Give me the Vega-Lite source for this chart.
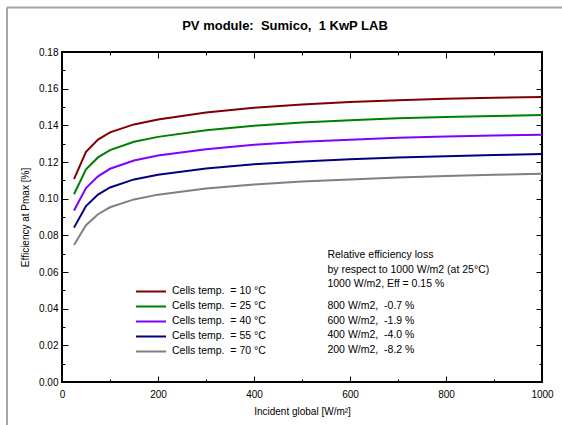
{
  "$schema": "https://vega.github.io/schema/vega-lite/v6.json",
  "width": 480,
  "height": 330,
  "autosize": "none",
  "padding": {"left": 62, "top": 52, "right": 20, "bottom": 43},
  "background": "white",
  "title": {"text": "PV module:\u00a0 Sumico,\u00a0 1 KwP LAB", "font": "Liberation Sans", "fontSize": 13, "fontWeight": "bold", "color": "black", "anchor": "middle", "frame": "group", "dx": -17, "offset": -26},
  "config": {
    "view": {"stroke": "black", "strokeWidth": 2},
    "axis": {"grid": false, "domain": false, "tickColor": "black", "tickWidth": 1, "labelFont": "Liberation Sans", "labelFontSize": 10, "labelColor": "black", "titleFont": "Liberation Sans", "titleFontSize": 10, "titleFontWeight": "normal", "titleColor": "black", "labelFlush": false},
    "legend": {"orient": "none", "legendX": 73, "legendY": 233, "title": null, "symbolType": "stroke", "symbolSize": 900, "symbolStrokeWidth": 2, "labelFont": "Liberation Sans", "labelFontSize": 10.5, "labelColor": "black", "clipHeight": 12.75, "rowPadding": 2, "labelOffset": 5}
  },
  "data": {"values": [
    {"g": 25, "e": 0.1107, "t": "Cells temp.\u00a0 = 10 °C"},
    {"g": 50, "e": 0.1256, "t": "Cells temp.\u00a0 = 10 °C"},
    {"g": 75, "e": 0.1322, "t": "Cells temp.\u00a0 = 10 °C"},
    {"g": 100, "e": 0.1362, "t": "Cells temp.\u00a0 = 10 °C"},
    {"g": 150, "e": 0.1405, "t": "Cells temp.\u00a0 = 10 °C"},
    {"g": 200, "e": 0.1432, "t": "Cells temp.\u00a0 = 10 °C"},
    {"g": 300, "e": 0.147, "t": "Cells temp.\u00a0 = 10 °C"},
    {"g": 400, "e": 0.1496, "t": "Cells temp.\u00a0 = 10 °C"},
    {"g": 500, "e": 0.1513, "t": "Cells temp.\u00a0 = 10 °C"},
    {"g": 600, "e": 0.1527, "t": "Cells temp.\u00a0 = 10 °C"},
    {"g": 700, "e": 0.1537, "t": "Cells temp.\u00a0 = 10 °C"},
    {"g": 800, "e": 0.1545, "t": "Cells temp.\u00a0 = 10 °C"},
    {"g": 900, "e": 0.155, "t": "Cells temp.\u00a0 = 10 °C"},
    {"g": 1000, "e": 0.1555, "t": "Cells temp.\u00a0 = 10 °C"},
    {"g": 25, "e": 0.1024, "t": "Cells temp.\u00a0 = 25 °C"},
    {"g": 50, "e": 0.116, "t": "Cells temp.\u00a0 = 25 °C"},
    {"g": 75, "e": 0.1225, "t": "Cells temp.\u00a0 = 25 °C"},
    {"g": 100, "e": 0.1265, "t": "Cells temp.\u00a0 = 25 °C"},
    {"g": 150, "e": 0.131, "t": "Cells temp.\u00a0 = 25 °C"},
    {"g": 200, "e": 0.1337, "t": "Cells temp.\u00a0 = 25 °C"},
    {"g": 300, "e": 0.1373, "t": "Cells temp.\u00a0 = 25 °C"},
    {"g": 400, "e": 0.1398, "t": "Cells temp.\u00a0 = 25 °C"},
    {"g": 500, "e": 0.1415, "t": "Cells temp.\u00a0 = 25 °C"},
    {"g": 600, "e": 0.1428, "t": "Cells temp.\u00a0 = 25 °C"},
    {"g": 700, "e": 0.1438, "t": "Cells temp.\u00a0 = 25 °C"},
    {"g": 800, "e": 0.1446, "t": "Cells temp.\u00a0 = 25 °C"},
    {"g": 900, "e": 0.1451, "t": "Cells temp.\u00a0 = 25 °C"},
    {"g": 1000, "e": 0.1456, "t": "Cells temp.\u00a0 = 25 °C"},
    {"g": 25, "e": 0.0935, "t": "Cells temp.\u00a0 = 40 °C"},
    {"g": 50, "e": 0.1058, "t": "Cells temp.\u00a0 = 40 °C"},
    {"g": 75, "e": 0.1122, "t": "Cells temp.\u00a0 = 40 °C"},
    {"g": 100, "e": 0.1163, "t": "Cells temp.\u00a0 = 40 °C"},
    {"g": 150, "e": 0.1208, "t": "Cells temp.\u00a0 = 40 °C"},
    {"g": 200, "e": 0.1235, "t": "Cells temp.\u00a0 = 40 °C"},
    {"g": 300, "e": 0.127, "t": "Cells temp.\u00a0 = 40 °C"},
    {"g": 400, "e": 0.1294, "t": "Cells temp.\u00a0 = 40 °C"},
    {"g": 500, "e": 0.131, "t": "Cells temp.\u00a0 = 40 °C"},
    {"g": 600, "e": 0.1322, "t": "Cells temp.\u00a0 = 40 °C"},
    {"g": 700, "e": 0.1332, "t": "Cells temp.\u00a0 = 40 °C"},
    {"g": 800, "e": 0.1339, "t": "Cells temp.\u00a0 = 40 °C"},
    {"g": 900, "e": 0.1344, "t": "Cells temp.\u00a0 = 40 °C"},
    {"g": 1000, "e": 0.1349, "t": "Cells temp.\u00a0 = 40 °C"},
    {"g": 25, "e": 0.0842, "t": "Cells temp.\u00a0 = 55 °C"},
    {"g": 50, "e": 0.096, "t": "Cells temp.\u00a0 = 55 °C"},
    {"g": 75, "e": 0.1022, "t": "Cells temp.\u00a0 = 55 °C"},
    {"g": 100, "e": 0.1061, "t": "Cells temp.\u00a0 = 55 °C"},
    {"g": 150, "e": 0.1105, "t": "Cells temp.\u00a0 = 55 °C"},
    {"g": 200, "e": 0.1131, "t": "Cells temp.\u00a0 = 55 °C"},
    {"g": 300, "e": 0.1165, "t": "Cells temp.\u00a0 = 55 °C"},
    {"g": 400, "e": 0.1188, "t": "Cells temp.\u00a0 = 55 °C"},
    {"g": 500, "e": 0.1203, "t": "Cells temp.\u00a0 = 55 °C"},
    {"g": 600, "e": 0.1215, "t": "Cells temp.\u00a0 = 55 °C"},
    {"g": 700, "e": 0.1225, "t": "Cells temp.\u00a0 = 55 °C"},
    {"g": 800, "e": 0.1232, "t": "Cells temp.\u00a0 = 55 °C"},
    {"g": 900, "e": 0.1238, "t": "Cells temp.\u00a0 = 55 °C"},
    {"g": 1000, "e": 0.1244, "t": "Cells temp.\u00a0 = 55 °C"},
    {"g": 25, "e": 0.0747, "t": "Cells temp.\u00a0 = 70 °C"},
    {"g": 50, "e": 0.0855, "t": "Cells temp.\u00a0 = 70 °C"},
    {"g": 75, "e": 0.0915, "t": "Cells temp.\u00a0 = 70 °C"},
    {"g": 100, "e": 0.0953, "t": "Cells temp.\u00a0 = 70 °C"},
    {"g": 150, "e": 0.0996, "t": "Cells temp.\u00a0 = 70 °C"},
    {"g": 200, "e": 0.1022, "t": "Cells temp.\u00a0 = 70 °C"},
    {"g": 300, "e": 0.1055, "t": "Cells temp.\u00a0 = 70 °C"},
    {"g": 400, "e": 0.1077, "t": "Cells temp.\u00a0 = 70 °C"},
    {"g": 500, "e": 0.1093, "t": "Cells temp.\u00a0 = 70 °C"},
    {"g": 600, "e": 0.1105, "t": "Cells temp.\u00a0 = 70 °C"},
    {"g": 700, "e": 0.1115, "t": "Cells temp.\u00a0 = 70 °C"},
    {"g": 800, "e": 0.1123, "t": "Cells temp.\u00a0 = 70 °C"},
    {"g": 900, "e": 0.113, "t": "Cells temp.\u00a0 = 70 °C"},
    {"g": 1000, "e": 0.1136, "t": "Cells temp.\u00a0 = 70 °C"}
  ]},
  "resolve": {"axis": {"x": "independent", "y": "independent"}},
  "layer": [
    {
      "mark": {"type": "line", "strokeWidth": 2},
      "encoding": {
        "x": {"field": "g", "type": "quantitative", "scale": {"domain": [0, 1000], "nice": false, "zero": false},
              "axis": {"orient": "bottom", "values": [0, 200, 400, 600, 800, 1000], "format": "d", "tickSize": -6, "labelPadding": 13, "title": "Incident global [W/m²]", "titlePadding": 7}},
        "y": {"field": "e", "type": "quantitative", "scale": {"domain": [0, 0.18], "nice": false, "zero": false},
              "axis": {"orient": "left", "values": [0, 0.02, 0.04, 0.06, 0.08, 0.1, 0.12, 0.14, 0.16, 0.18], "format": ".2f", "tickSize": -6, "labelPadding": 10, "title": "Efficiency at Pmax [%]", "titlePadding": 8}},
        "color": {"field": "t", "type": "nominal",
                  "scale": {"domain": ["Cells temp.\u00a0 = 10 °C", "Cells temp.\u00a0 = 25 °C", "Cells temp.\u00a0 = 40 °C", "Cells temp.\u00a0 = 55 °C", "Cells temp.\u00a0 = 70 °C"],
                            "range": ["#800000", "#008000", "#8000FF", "#000080", "#808080"]}}
      }
    },
    {
      "mark": {"type": "line", "opacity": 0},
      "encoding": {
        "x": {"field": "g", "type": "quantitative", "axis": {"orient": "bottom", "values": [100, 300, 500, 700, 900], "tickSize": -3, "labels": false, "title": null}},
        "y": {"field": "e", "type": "quantitative", "axis": {"orient": "left", "values": [0.01, 0.03, 0.05, 0.07, 0.09, 0.11, 0.13, 0.15, 0.17], "tickSize": -3, "labels": false, "title": null}},
        "detail": {"field": "t"}
      }
    },
    {
      "mark": {"type": "line", "opacity": 0},
      "encoding": {
        "x": {"field": "g", "type": "quantitative", "axis": {"orient": "top", "values": [200, 400, 600, 800], "tickSize": -6, "labels": false, "title": null}},
        "y": {"field": "e", "type": "quantitative", "axis": {"orient": "right", "values": [0.02, 0.04, 0.06, 0.08, 0.1, 0.12, 0.14, 0.16], "tickSize": -6, "labels": false, "title": null}},
        "detail": {"field": "t"}
      }
    },
    {
      "mark": {"type": "line", "opacity": 0},
      "encoding": {
        "x": {"field": "g", "type": "quantitative", "axis": {"orient": "top", "values": [100, 300, 500, 700, 900], "tickSize": -3, "labels": false, "title": null}},
        "y": {"field": "e", "type": "quantitative", "axis": {"orient": "right", "values": [0.01, 0.03, 0.05, 0.07, 0.09, 0.11, 0.13, 0.15, 0.17], "tickSize": -3, "labels": false, "title": null}},
        "detail": {"field": "t"}
      }
    },
    {
      "data": {"values": [{}]},
      "mark": {"type": "text", "align": "left", "baseline": "middle", "lineHeight": 14.7, "font": "Liberation Sans", "fontSize": 10.5, "color": "black",
               "text": ["Relative efficiency loss", "by respect to 1000 W/m2 (at 25°C)", "1000 W/m2, Eff = 0.15 %"]},
      "encoding": {
        "x": {"datum": 553, "type": "quantitative", "axis": null},
        "y": {"datum": 0.06927, "type": "quantitative", "axis": null}
      }
    },
    {
      "data": {"values": [{}]},
      "mark": {"type": "text", "align": "left", "baseline": "middle", "lineHeight": 14.7, "font": "Liberation Sans", "fontSize": 10.5, "color": "black",
               "text": ["800 W/m2,\u00a0 -0.7 %", "600 W/m2,\u00a0 -1.9 %", "400 W/m2,\u00a0 -4.0 %", "200 W/m2,\u00a0 -8.2 %"]},
      "encoding": {
        "x": {"datum": 553, "type": "quantitative", "axis": null},
        "y": {"datum": 0.04145, "type": "quantitative", "axis": null}
      }
    },
    {
      "data": {"values": [{}]},
      "mark": {"type": "rule", "color": "#A6A6A6", "strokeWidth": 2},
      "encoding": {
        "x": {"datum": -114.6, "type": "quantitative", "axis": null},
        "x2": {"datum": 1150},
        "y": {"datum": 0.20427, "type": "quantitative", "axis": null}
      }
    },
    {
      "data": {"values": [{}]},
      "mark": {"type": "rule", "color": "#A6A6A6", "strokeWidth": 2},
      "encoding": {
        "x": {"datum": -114.6, "type": "quantitative", "axis": null},
        "y": {"datum": 0.20427, "type": "quantitative", "axis": null},
        "y2": {"datum": -0.05}
      }
    }
  ]
}
